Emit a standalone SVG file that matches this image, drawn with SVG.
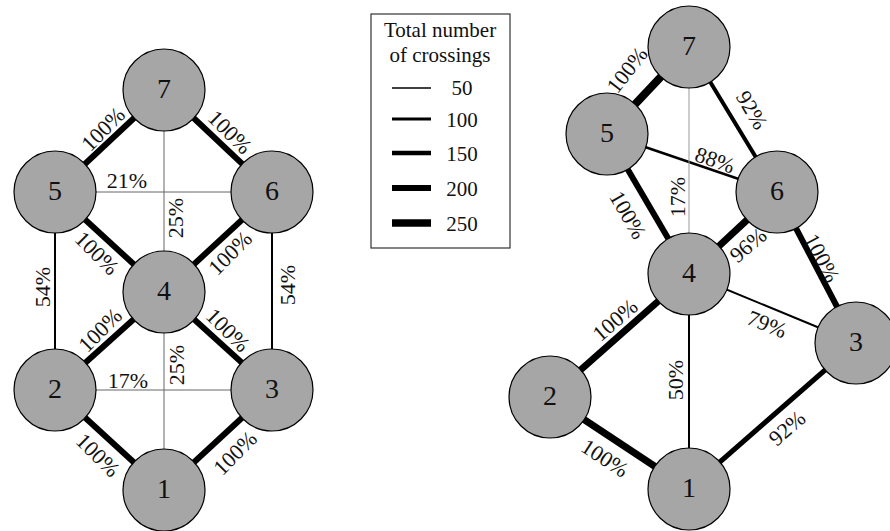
<svg xmlns="http://www.w3.org/2000/svg" width="890" height="531" viewBox="0 0 890 531" font-family="Liberation Serif, Times New Roman, serif">
  <style>
    .node { fill: #a6a6a6; stroke: #000; stroke-width: 1.2; }
    .num { font-size: 28px; text-anchor: middle; dominant-baseline: central; fill: #111; }
    .lbl { font-size: 22px; text-anchor: middle; dominant-baseline: central; fill: #111; }
    .leg { font-size: 21px; text-anchor: middle; fill: #111; }
    .e { stroke: #000; stroke-linecap: butt; fill: none; }
    .thin { stroke: #666; stroke-width: 1; }
    .faint { stroke: #999; stroke-width: 1; }
  </style>

  <!-- Left graph: connectors -->
  <g id="left-edges">
    <line class="e" x1="164" y1="90" x2="55" y2="192" stroke-width="6"/>
    <line class="e" x1="164" y1="90" x2="272" y2="192" stroke-width="6"/>
    <line class="e thin" x1="55" y1="192" x2="272" y2="192"/>
    <line class="e thin" x1="164" y1="90" x2="164" y2="292"/>
    <line class="e" x1="55" y1="192" x2="164" y2="292" stroke-width="6"/>
    <line class="e" x1="272" y1="192" x2="164" y2="292" stroke-width="6"/>
    <line class="e" x1="55" y1="192" x2="55" y2="390" stroke-width="2"/>
    <line class="e" x1="272" y1="192" x2="272" y2="390" stroke-width="2"/>
    <line class="e" x1="164" y1="292" x2="55" y2="390" stroke-width="6"/>
    <line class="e" x1="164" y1="292" x2="272" y2="390" stroke-width="6"/>
    <line class="e thin" x1="55" y1="390" x2="272" y2="390"/>
    <line class="e thin" x1="164" y1="292" x2="164" y2="490"/>
    <line class="e" x1="55" y1="390" x2="164" y2="490" stroke-width="6"/>
    <line class="e" x1="272" y1="390" x2="164" y2="490" stroke-width="6"/>
  </g>

  <!-- Left graph: connector labels -->
  <g id="left-labels">
    <text class="lbl" transform="translate(103,129) rotate(-45)">100%</text>
    <text class="lbl" transform="translate(230,132) rotate(45)">100%</text>
    <text class="lbl" x="127" y="180">21%</text>
    <text class="lbl" transform="translate(175,218) rotate(-90)">25%</text>
    <text class="lbl" transform="translate(97,253) rotate(45)">100%</text>
    <text class="lbl" transform="translate(230,253) rotate(-45)">100%</text>
    <text class="lbl" transform="translate(42,287) rotate(-90)">54%</text>
    <text class="lbl" transform="translate(287,285) rotate(-90)">54%</text>
    <text class="lbl" transform="translate(100,330) rotate(-45)">100%</text>
    <text class="lbl" transform="translate(228,330) rotate(45)">100%</text>
    <text class="lbl" x="128" y="380">17%</text>
    <text class="lbl" transform="translate(176,365) rotate(-90)">25%</text>
    <text class="lbl" transform="translate(98,455) rotate(45)">100%</text>
    <text class="lbl" transform="translate(235,453) rotate(-45)">100%</text>
  </g>

  <!-- Left graph: nodes -->
  <g id="L7"><circle class="node" cx="164" cy="90" r="41"/><text class="num" x="164" y="88">7</text></g>
  <g id="L5"><circle class="node" cx="55" cy="192" r="41"/><text class="num" x="55" y="190">5</text></g>
  <g id="L6"><circle class="node" cx="272" cy="192" r="41"/><text class="num" x="272" y="190">6</text></g>
  <g id="L4"><circle class="node" cx="164" cy="292" r="41"/><text class="num" x="164" y="290">4</text></g>
  <g id="L2"><circle class="node" cx="55" cy="390" r="41"/><text class="num" x="55" y="388">2</text></g>
  <g id="L3"><circle class="node" cx="272" cy="390" r="41"/><text class="num" x="272" y="388">3</text></g>
  <g id="L1"><circle class="node" cx="164" cy="490" r="41"/><text class="num" x="164" y="488">1</text></g>

  <!-- Legend -->
  <g id="legend">
    <rect x="371" y="14" width="139" height="234" fill="#fff" stroke="#333" stroke-width="1.2"/>
    <text class="leg" x="440" y="37">Total number</text>
    <text class="leg" x="440" y="62">of crossings</text>
    <line class="e" x1="392" y1="88" x2="431" y2="88" stroke-width="1.5"/>
    <line class="e" x1="392" y1="119" x2="431" y2="119" stroke-width="3"/>
    <line class="e" x1="392" y1="153" x2="431" y2="153" stroke-width="4.5"/>
    <line class="e" x1="392" y1="188" x2="431" y2="188" stroke-width="6"/>
    <line class="e" x1="392" y1="223" x2="431" y2="223" stroke-width="7.5"/>
    <text class="leg" x="462" y="95">50</text>
    <text class="leg" x="462" y="127">100</text>
    <text class="leg" x="462" y="161">150</text>
    <text class="leg" x="462" y="196">200</text>
    <text class="leg" x="462" y="231">250</text>
  </g>

  <!-- Right graph: connectors -->
  <g id="right-edges">
    <line class="e" x1="689" y1="47" x2="607" y2="134" stroke-width="8"/>
    <line class="e" x1="689" y1="47" x2="777" y2="192" stroke-width="4"/>
    <line class="e" x1="607" y1="134" x2="777" y2="192" stroke-width="2.5"/>
    <line class="e faint" x1="689" y1="47" x2="689" y2="274"/>
    <line class="e" x1="607" y1="134" x2="689" y2="274" stroke-width="6"/>
    <line class="e" x1="777" y1="192" x2="689" y2="274" stroke-width="7"/>
    <line class="e" x1="777" y1="192" x2="856" y2="343" stroke-width="6"/>
    <line class="e" x1="689" y1="274" x2="856" y2="343" stroke-width="2"/>
    <line class="e" x1="689" y1="274" x2="550" y2="397" stroke-width="7"/>
    <line class="e" x1="689" y1="274" x2="689" y2="489" stroke-width="2"/>
    <line class="e" x1="550" y1="397" x2="689" y2="489" stroke-width="7"/>
    <line class="e" x1="689" y1="489" x2="856" y2="343" stroke-width="5"/>
  </g>

  <!-- Right graph: connector labels -->
  <g id="right-labels">
    <text class="lbl" transform="translate(627,70) rotate(-52)">100%</text>
    <text class="lbl" transform="translate(752,110) rotate(59)">92%</text>
    <text class="lbl" transform="translate(715,160) rotate(19)">88%</text>
    <text class="lbl" transform="translate(677,197) rotate(-90)">17%</text>
    <text class="lbl" transform="translate(628,215) rotate(60)">100%</text>
    <text class="lbl" transform="translate(748,245) rotate(-40)">96%</text>
    <text class="lbl" transform="translate(822,258) rotate(62)">100%</text>
    <text class="lbl" transform="translate(767,324) rotate(22)">79%</text>
    <text class="lbl" transform="translate(615,320) rotate(-41)">100%</text>
    <text class="lbl" transform="translate(675,380) rotate(-90)">50%</text>
    <text class="lbl" transform="translate(605,458) rotate(33)">100%</text>
    <text class="lbl" transform="translate(787,428) rotate(-41)">92%</text>
  </g>

  <!-- Right graph: nodes -->
  <g id="R7"><circle class="node" cx="689" cy="47" r="41"/><text class="num" x="689" y="45">7</text></g>
  <g id="R5"><circle class="node" cx="607" cy="134" r="41"/><text class="num" x="607" y="132">5</text></g>
  <g id="R6"><circle class="node" cx="777" cy="192" r="41"/><text class="num" x="777" y="190">6</text></g>
  <g id="R4"><circle class="node" cx="689" cy="274" r="41"/><text class="num" x="689" y="272">4</text></g>
  <g id="R3"><circle class="node" cx="856" cy="343" r="41"/><text class="num" x="856" y="341">3</text></g>
  <g id="R2"><circle class="node" cx="550" cy="397" r="41"/><text class="num" x="550" y="395">2</text></g>
  <g id="R1"><circle class="node" cx="689" cy="489" r="41"/><text class="num" x="689" y="487">1</text></g>
</svg>
